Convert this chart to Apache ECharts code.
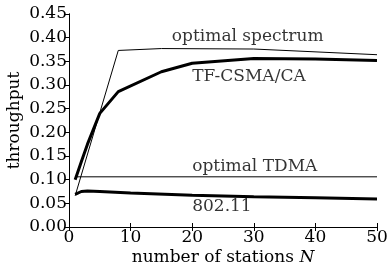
<!DOCTYPE html>
<html>
<head>
<meta charset="utf-8">
<script src="https://cdn.jsdelivr.net/npm/echarts@6/dist/echarts.min.js"></script>
<style>
  html, body { margin: 0; background: #fff; }
  #chart { width: 388px; height: 268px; }
</style>
</head>
<body>
<div id="chart"></div>
<script>
// data
const spectrumN = [1, 8, 15, 30, 50]
const optimalSpectrum = [0.066, 0.373, 0.377, 0.376, 0.364]

const tfN = [1, 2, 3, 5, 8, 15, 20, 30, 40, 50]
const tfCsma = [0.100, 0.138, 0.175, 0.240, 0.286, 0.328, 0.346, 0.356, 0.355, 0.352]

const tdmaN = [1, 50]
const optimalTdma = [0.106, 0.106]

const wifiN = [1, 2, 3, 5, 10, 20, 30, 40, 50]
const wifi = [0.069, 0.075, 0.076, 0.075, 0.072, 0.067, 0.064, 0.062, 0.059]

const labelText = ['optimal spectrum', 'TF-CSMA/CA', 'optimal TDMA', '802.11']
const labelN = [16.7, 20, 20, 20]
const labelY = [0.402, 0.318, 0.1275, 0.043]

const font = 'DejaVu Serif'
const fs = 17
const zip = (xs, ys) => xs.map((x, i) => [x, ys[i]])

const chart = echarts.init(document.getElementById('chart'))

const axisCommon = {
  type: 'value',
  axisLine: { show: true, lineStyle: { color: '#000', width: 1 } },
  axisTick: { show: true, inside: true, length: 4, lineStyle: { color: '#000' } },
  splitLine: { show: false }
}

const lineSeries = (data, width) => ({
  type: 'line',
  data: data,
  symbol: 'none',
  lineStyle: { color: '#000', width: width },
  silent: true,
  animation: false
})

chart.setOption({
  animation: false,
  grid: { left: 69, right: 11, top: 14, bottom: 41, outerBoundsMode: 'none' },
  xAxis: [
    {
      ...axisCommon,
      min: 0, max: 50, interval: 10,
      axisLabel: { color: '#000', fontFamily: font, fontSize: fs, margin: 2 },
      name: 'number of stations {i|N}',
      nameLocation: 'middle',
      nameGap: 22,
      nameMoveOverlap: false,
      nameTextStyle: {
        color: '#000', fontFamily: font, fontSize: fs,
        rich: { i: { fontStyle: 'italic', fontFamily: font, fontSize: fs, color: '#000' } }
      }
    },
    {
      ...axisCommon,
      position: 'top',
      min: 0, max: 50, interval: 10,
      axisLabel: { show: false }
    }
  ],
  yAxis: [
    {
      ...axisCommon,
      min: 0, max: 0.45, interval: 0.05,
      axisTick: { show: true, inside: false, length: 3, lineStyle: { color: '#000' } },
      axisLabel: {
        color: '#000', fontFamily: font, fontSize: fs, margin: 2,
        formatter: v => v.toFixed(2)
      },
      name: 'throughput',
      nameLocation: 'middle',
      nameGap: 46,
      nameMoveOverlap: false,
      nameTextStyle: { color: '#000', fontFamily: font, fontSize: fs }
    },
    {
      ...axisCommon,
      position: 'right',
      min: 0, max: 0.45, interval: 0.05,
      axisLabel: { show: false }
    }
  ],
  series: [
    lineSeries(zip(spectrumN, optimalSpectrum), 1),
    lineSeries(zip(tfN, tfCsma), 3),
    lineSeries(zip(tdmaN, optimalTdma), 1),
    lineSeries(zip(wifiN, wifi), 3),
    {
      type: 'scatter',
      symbolSize: 0,
      silent: true,
      data: labelText.map((t, i) => [labelN[i], labelY[i], t]),
      label: {
        show: true,
        position: 'right',
        distance: 0,
        formatter: p => p.value[2],
        color: '#000',
        fontFamily: font,
        fontSize: fs
      }
    }
  ]
})
</script>
</body>
</html>
